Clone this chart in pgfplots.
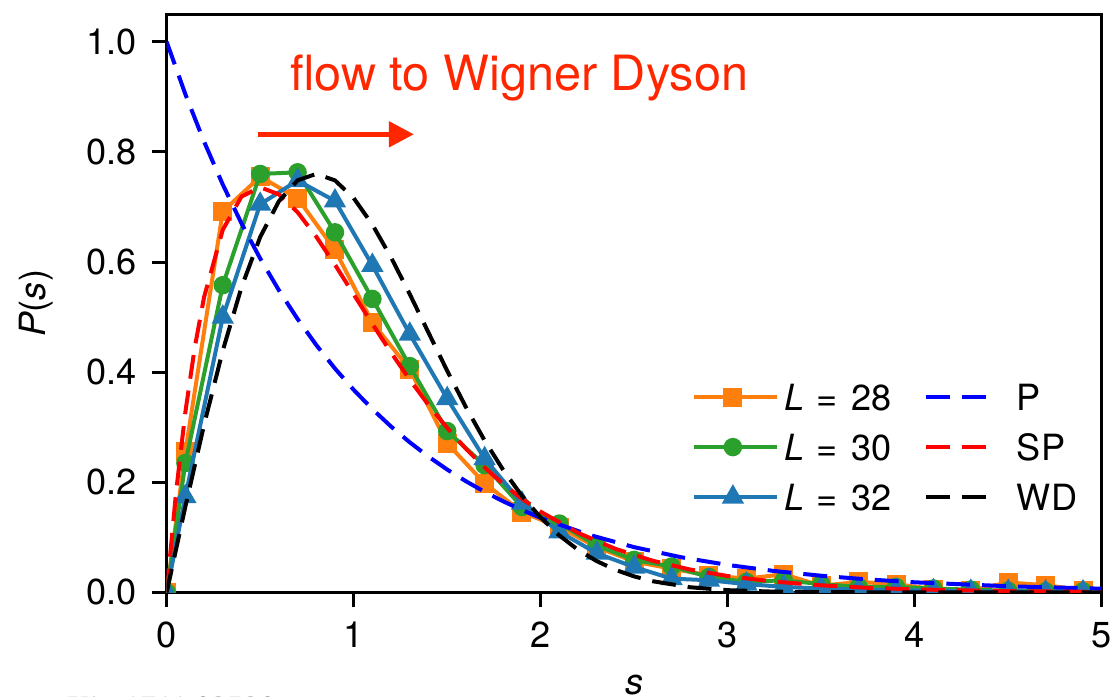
\documentclass[border=0pt]{standalone}
\usepackage{fontspec}
\setmainfont{TeX Gyre Heros}
\newfontfamily\stampfont{Liberation Serif}
\usepackage{pgfplots}
\pgfplotsset{compat=1.18}
\usetikzlibrary{arrows.meta}

\definecolor{c28}{HTML}{FF7F0E}
\definecolor{c30}{HTML}{2CA02C}
\definecolor{c32}{HTML}{1F77B4}
\definecolor{flowred}{HTML}{FF2600}

\pgfplotsset{
  dat/.style={line width=1.44pt, mark options={solid, draw=black, line width=0.45pt}},
  s28/.style={dat, color=c28, mark=square*, mark size=2.7pt, mark options={fill=c28}},
  s30/.style={dat, color=c30, mark=*, mark size=2.6pt, mark options={fill=c30}},
  s32/.style={dat, color=c32, mark=triangle*, mark size=3.2pt, mark options={fill=c32}},
  curve/.style={line width=1.44pt, dash pattern=on 8.6pt off 4.3pt, no marks},
  sP/.style={curve, color=blue},
  sSP/.style={curve, color=red},
  sWD/.style={curve, color=black},
  lgdash/.style={dash pattern=on 8.6pt off 4.3pt on 8.6pt off 20pt},
}

\pgfplotstableread{
s P
0 0
0.1 0.255
0.3 0.692
0.5 0.755
0.7 0.716
0.9 0.622
1.1 0.490
1.3 0.405
1.5 0.271
1.7 0.198
1.9 0.146
2.1 0.118
2.3 0.082
2.5 0.056
2.7 0.043
2.9 0.031
3.1 0.025
3.3 0.033
3.5 0.012
3.7 0.019
3.9 0.015
4.1 0.006
4.3 0.004
4.5 0.018
4.7 0.013
4.9 0.004
}\tabA

\pgfplotstableread{
s P
0 0
0.1 0.235
0.3 0.558
0.5 0.760
0.7 0.763
0.9 0.654
1.1 0.533
1.3 0.411
1.5 0.293
1.7 0.231
1.9 0.155
2.1 0.125
2.3 0.085
2.5 0.059
2.7 0.047
2.9 0.028
3.1 0.019
3.3 0.022
3.5 0.015
3.7 0.010
3.9 0.010
4.1 0.007
4.3 0.005
4.5 0.003
4.7 0.002
4.9 0.002
}\tabB

\pgfplotstableread{
s P
0 0
0.1 0.174
0.3 0.500
0.5 0.705
0.7 0.748
0.9 0.711
1.1 0.594
1.3 0.469
1.5 0.352
1.7 0.243
1.9 0.162
2.1 0.110
2.3 0.071
2.5 0.046
2.7 0.025
2.9 0.022
3.1 0.015
3.3 0.010
3.5 0.007
3.7 0.005
3.9 0.004
4.1 0.003
4.3 0.002
4.5 0.002
4.7 0.001
4.9 0.001
}\tabC

% Poisson
\pgfplotstableread{
s P
0 1
0.1 0.9048
0.2 0.8187
0.3 0.7408
0.4 0.6703
0.5 0.6065
0.6 0.5488
0.7 0.4966
0.8 0.4493
0.9 0.4066
1.0 0.3679
1.1 0.3329
1.2 0.3012
1.3 0.2725
1.4 0.2466
1.5 0.2231
1.6 0.2019
1.7 0.1827
1.8 0.1653
1.9 0.1496
2.0 0.1353
2.25 0.1054
2.5 0.0821
2.75 0.0639
3.0 0.0498
3.25 0.0388
3.5 0.0302
3.75 0.0235
4.0 0.0183
4.5 0.0111
5.0 0.0067
}\tabP

% semi-Poisson
\pgfplotstableread{
s P
0 0
0.05 0.1810
0.1 0.3275
0.15 0.4445
0.2 0.5363
0.3 0.6586
0.4 0.7189
0.5 0.7358
0.6 0.7229
0.7 0.6905
0.8 0.6460
0.9 0.5951
1.0 0.5413
1.1 0.4876
1.2 0.4355
1.3 0.3862
1.4 0.3405
1.5 0.2987
1.6 0.2609
1.7 0.2269
1.8 0.1967
1.9 0.1700
2.0 0.1465
2.2 0.1081
2.4 0.0790
2.6 0.0574
2.8 0.0414
3.0 0.0297
3.25 0.0195
3.5 0.0128
3.75 0.0083
4.0 0.0054
4.5 0.0022
5.0 0.0009
}\tabSP

% Wigner-Dyson
\pgfplotstableread{
s P
0 0
0.1 0.1559
0.2 0.3044
0.3 0.4391
0.4 0.5541
0.5 0.6454
0.6 0.7104
0.7 0.7484
0.8 0.7601
0.9 0.7483
1.0 0.7162
1.1 0.6680
1.2 0.6083
1.3 0.5416
1.4 0.4718
1.5 0.4025
1.6 0.3366
1.7 0.2759
1.8 0.2220
1.9 0.1752
2.0 0.1358
2.1 0.1033
2.2 0.0772
2.3 0.0567
2.4 0.0409
2.5 0.0290
2.6 0.0202
2.8 0.0093
3.0 0.0040
3.25 0.0013
3.5 0.0004
4.0 0.0000
5.0 0.0000
}\tabWD

\begin{document}
\begin{tikzpicture}
\begin{axis}[
  name=ax,
  width=336.6pt, height=208.1pt, scale only axis,
  xmin=0, xmax=5, ymin=0, ymax=1.05,
  xtick={0,1,2,3,4,5},
  ytick={0,0.2,0.4,0.6,0.8,1.0},
  yticklabel style={/pgf/number format/fixed, /pgf/number format/fixed zerofill,
    /pgf/number format/precision=1, xshift=-1.8pt},
  xticklabel style={yshift=-1.8pt},
  /pgf/number format/assume math mode=true,
  tick align=outside, major tick length=5.4pt,
  xtick pos=bottom, ytick pos=left,
  axis line style={line width=1.08pt},
  major tick style={black, line width=1.08pt},
  tick label style={font=\fontsize{13}{15}\selectfont},
  xlabel={\textit{s}}, ylabel={\textit{P}(\textit{s})},
  every axis x label/.style={at={(axis description cs:0.5,-0.1773)}, anchor=base,
    font=\fontsize{13}{15}\selectfont},
  every axis y label/.style={at={(axis description cs:-0.1396,0.5)}, rotate=90, anchor=center,
    font=\fontsize{13}{15}\selectfont},
  clip marker paths=true,
  legend columns=2,
  legend cell align=left,
  legend image code/.code={\draw[mark repeat=2,mark phase=2,#1] plot coordinates {(0pt,0pt) (14pt,0pt) (28pt,0pt)};
    \path (0pt,0pt) -- (30pt,0pt);},
  legend style={draw=none, fill=none, inner sep=0pt, outer sep=0pt,
    at={(0.9796,0.370)}, anchor=north east,
    font=\fontsize{13}{15}\selectfont,
    nodes={inner sep=2pt, text height=9.4pt, text depth=0pt},
    row sep=4.6pt,
    /tikz/every even column/.append style={column sep=9.5pt}},
]
\addplot[s28, forget plot] table[x=s, y=P] {\tabA};
\addplot[s30, forget plot] table[x=s, y=P] {\tabB};
\addplot[s32, forget plot] table[x=s, y=P] {\tabC};
\addplot[sP, forget plot] table[x=s, y=P] {\tabP};
\addplot[sSP, forget plot] table[x=s, y=P] {\tabSP};
\addplot[sWD, forget plot] table[x=s, y=P] {\tabWD};

\addlegendimage{s28}\addlegendentry{\textit{L}\hspace{4.3pt}=\hspace{5pt}28}
\addlegendimage{sP, lgdash}\addlegendentry{P}
\addlegendimage{s30}\addlegendentry{\textit{L}\hspace{4.3pt}=\hspace{5pt}30}
\addlegendimage{sSP, lgdash}\addlegendentry{SP}
\addlegendimage{s32}\addlegendentry{\textit{L}\hspace{4.3pt}=\hspace{5pt}32}
\addlegendimage{sWD, lgdash}\addlegendentry{WD}

\node[anchor=base west, inner sep=0pt, text=flowred, font=\fontsize{17.5}{20}\selectfont]
  at (axis cs:0.659,0.912) {flow to Wigner Dyson};
\draw[flowred, line width=1.8pt, -{Triangle[length=9pt,width=9pt]}]
  (axis cs:0.488,0.832) -- (axis cs:1.322,0.832);
\end{axis}
\node[anchor=north west, inner sep=0pt, font=\stampfont\fontsize{11.6}{13}\selectfont, text=black!85]
  at ([xshift=-45.25pt,yshift=-37.4pt]ax.south west) {arXiv:1711.02520};
\pgfresetboundingbox
\path[use as bounding box] ([xshift=-60.0pt,yshift=-37.33pt]ax.south west)
  rectangle ([xshift=4.79pt,yshift=5.15pt]ax.north east);
\end{tikzpicture}
\end{document}
